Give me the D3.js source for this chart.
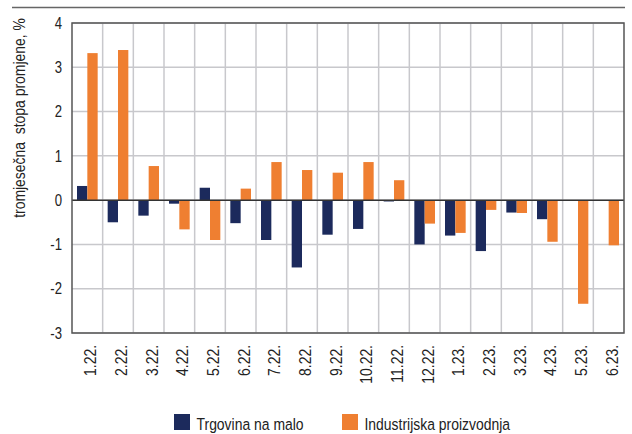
<!DOCTYPE html>
<html>
<head>
<meta charset="utf-8">
<script src="https://cdn.jsdelivr.net/npm/d3@7"></script>
<style>
  body { margin: 0; background: #fff; }
  svg text { font-family: "Liberation Sans Narrow", "Liberation Sans", sans-serif; fill: #222; }
</style>
</head>
<body>
<svg id="chart"></svg>
<script>
// podaci
const categories = ["1.22.", "2.22.", "3.22.", "4.22.", "5.22.", "6.22.", "7.22.", "8.22.", "9.22.",
  "10.22.", "11.22.", "12.22.", "1.23.", "2.23.", "3.23.", "4.23.", "5.23.", "6.23."];
const trgovina = [0.32, -0.5, -0.35, -0.08, 0.28, -0.52, -0.9, -1.52, -0.78,
  -0.65, -0.03, -1.0, -0.8, -1.15, -0.28, -0.43, 0, 0];
const industrija = [3.32, 3.39, 0.77, -0.66, -0.9, 0.26, 0.86, 0.68, 0.62,
  0.86, 0.45, -0.53, -0.74, -0.22, -0.29, -0.94, -2.34, -1.02];
const seriesNames = ["Trgovina na malo", "Industrijska proizvodnja"];
const seriesColors = ["#1c2a5c", "#ef7f31"];
const yTicks = [-3, -2, -1, 0, 1, 2, 3, 4];

const width = 632, height = 434;
const margin = { top: 23, right: 8, bottom: 101, left: 72 };
const narrow = 0.82; // font nije uži, pa ga stisnemo

const svg = d3.select("#chart").attr("width", width).attr("height", height);

// linija na vrhu
svg.append("line")
  .attr("x1", 12).attr("x2", 625).attr("y1", 7.5).attr("y2", 7.5)
  .attr("stroke", "#666").attr("stroke-width", 1.5);

const x = d3.scaleBand().domain(categories).range([margin.left, width - margin.right]);
const y = d3.scaleLinear().domain([-3, 4]).range([height - margin.bottom, margin.top]);
const x1 = d3.scaleBand().domain([0, 1]).range([5, x.bandwidth() - 5]);

const g = svg.append("g");

// mreža
g.selectAll(".hgrid").data(yTicks).enter().append("line")
  .attr("x1", margin.left).attr("x2", width - margin.right)
  .attr("y1", d => y(d)).attr("y2", d => y(d))
  .attr("stroke", "#c8c8cc").attr("stroke-width", 1.5);

g.selectAll(".vgrid").data(categories.slice(1)).enter().append("line")
  .attr("x1", d => x(d)).attr("x2", d => x(d))
  .attr("y1", margin.top).attr("y2", height - margin.bottom)
  .attr("stroke", "#c8c8cc").attr("stroke-width", 1.5);

// stupci
const rows = categories.map((c, i) => ({ c, vals: [trgovina[i], industrija[i]] }));
const grp = g.selectAll(".cat").data(rows).enter().append("g")
  .attr("transform", d => `translate(${x(d.c)},0)`);

grp.selectAll("rect")
  .data(d => d.vals.map((v, k) => ({ v, k })).filter(e => e.v !== 0))
  .enter().append("rect")
  .attr("x", d => x1(d.k))
  .attr("width", x1.bandwidth())
  .attr("y", d => y(Math.max(0, d.v)))
  .attr("height", d => Math.abs(y(d.v) - y(0)))
  .attr("fill", d => seriesColors[d.k]);

// nulta linija i okvir
g.append("line")
  .attr("x1", margin.left).attr("x2", width - margin.right)
  .attr("y1", y(0)).attr("y2", y(0))
  .attr("stroke", "#333").attr("stroke-width", 1.5);

g.append("rect")
  .attr("x", margin.left).attr("y", margin.top)
  .attr("width", width - margin.right - margin.left)
  .attr("height", height - margin.bottom - margin.top)
  .attr("fill", "none").attr("stroke", "#555").attr("stroke-width", 1.5);

// oznake osi y
svg.selectAll(".ytick").data(yTicks).enter().append("text")
  .attr("transform", d => `translate(62,${y(d)}) scale(${narrow},1)`)
  .attr("dy", "0.36em")
  .attr("text-anchor", "end")
  .attr("font-size", "16px")
  .text(d => d);

// oznake osi x
svg.selectAll(".xtick").data(categories).enter().append("text")
  .attr("transform", d => `translate(${x(d) + x.bandwidth() / 2 + 9},345) rotate(-90) scale(${narrow},1)`)
  .attr("text-anchor", "end")
  .attr("font-size", "17px")
  .text(d => d);

// naslov osi y
svg.append("text")
  .attr("transform", `translate(25,118) rotate(-90) scale(${narrow},1)`)
  .attr("text-anchor", "middle")
  .attr("font-size", "17px")
  .attr("xml:space", "preserve")
  .text("tromjesečna  stopa promjene, %");

// legenda
const legendX = [174, 342];
const leg = svg.selectAll(".leg").data(seriesNames).enter().append("g")
  .attr("transform", (d, i) => `translate(${legendX[i]},414)`);
leg.append("rect").attr("width", 16).attr("height", 16).attr("fill", (d, i) => seriesColors[i]);
leg.append("text")
  .attr("transform", `translate(22.5,16) scale(${narrow},1)`)
  .attr("font-size", "17px")
  .text(d => d);
</script>
</body>
</html>
